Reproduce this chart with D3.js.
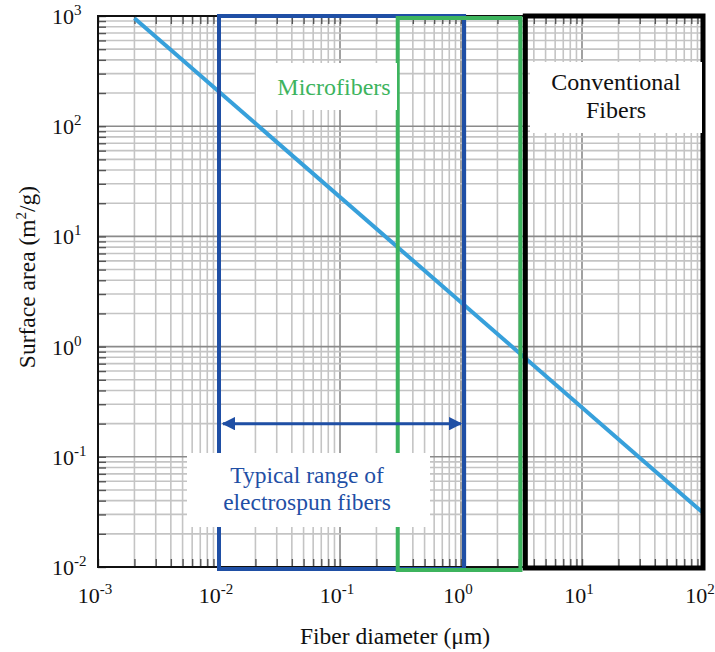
<!DOCTYPE html>
<html>
<head>
<meta charset="utf-8">
<script src="https://cdn.jsdelivr.net/npm/d3@7"></script>
<style>
  body { margin: 0; background: #fff; }
  svg text { font-family: "Liberation Serif", "DejaVu Serif", serif; }
</style>
</head>
<body>
<svg id="chart" width="715" height="652"></svg>
<script>
// data
var diameters = [0.002, 100];          // fiber diameter, um
var surfaceArea = [955, 0.031];        // m2/g

var xDecades = [-3, -2, -1, 0, 1, 2];
var yDecades = [-2, -1, 0, 1, 2, 3];

// ranges drawn as boxes
var rangeNames = ["Typical range of electrospun fibers", "Microfibers", "Conventional Fibers"];
var rangeStart = [0.01, 0.3, 3.4];
var rangeEnd = [1.06, 3.1, 100];
var rangeColors = ["#1f4fa5", "#3db45e", "#000000"];
var arrowLevel = 0.2;

var margin = {top: 16, right: 12, bottom: 85, left: 98};
var W = 715, H = 652;
var w = W - margin.left - margin.right;
var h = H - margin.top - margin.bottom;

var svg = d3.select('#chart');
var g = svg.append('g').attr('transform', 'translate(' + margin.left + ',' + margin.top + ')');

var x = d3.scaleLog().domain([1e-3, 1e2]).range([0, w]);
var y = d3.scaleLog().domain([1e-2, 1e3]).range([h, 0]);

function isDecade(v) {
    var l = Math.log10(v);
    return Math.abs(l - Math.round(l)) < 1e-6;
}

// grid
var xt = x.ticks();
var yt = y.ticks();

g.selectAll('.vgrid').data(xt).enter().append('line')
    .attr('x1', function (d) { return x(d); })
    .attr('x2', function (d) { return x(d); })
    .attr('y1', 0).attr('y2', h)
    .attr('stroke', function (d) { return isDecade(d) ? '#8a8a8a' : '#c4c4c4'; })
    .attr('stroke-width', 1.6);

g.selectAll('.hgrid').data(yt).enter().append('line')
    .attr('y1', function (d) { return y(d); })
    .attr('y2', function (d) { return y(d); })
    .attr('x1', 0).attr('x2', w)
    .attr('stroke', function (d) { return isDecade(d) ? '#8a8a8a' : '#c4c4c4'; })
    .attr('stroke-width', 1.6);

// small inward ticks
function tickStyle(a) {
    a.select('.domain').remove();
    a.selectAll('line').attr('stroke', '#555').attr('stroke-width', 1.4);
}
g.append('g').attr('transform', 'translate(0,' + h + ')')
    .call(d3.axisBottom(x).tickSize(-8).tickFormat(''))
    .call(tickStyle);
g.append('g')
    .call(d3.axisTop(x).tickSize(-8).tickFormat(''))
    .call(tickStyle);
g.append('g')
    .call(d3.axisLeft(y).tickSize(-8).tickFormat(''))
    .call(tickStyle);

// frame
g.append('rect')
    .attr('x', 0).attr('y', 0).attr('width', w).attr('height', h)
    .attr('fill', 'none').attr('stroke', '#111').attr('stroke-width', 2);

// white label backgrounds
var labelBoxes = [
    {x0: 187, y0: 453, x1: 430, y1: 527},
    {x0: 256, y0: 63, x1: 397, y1: 110},
    {x0: 530, y0: 62, x1: 702, y1: 133}
];
svg.selectAll('.lbox').data(labelBoxes).enter().append('rect')
    .attr('x', function (d) { return d.x0; })
    .attr('y', function (d) { return d.y0; })
    .attr('width', function (d) { return d.x1 - d.x0; })
    .attr('height', function (d) { return d.y1 - d.y0; })
    .attr('fill', '#fff');

// data line
var pts = diameters.map(function (d, i) { return [d, surfaceArea[i]]; });
g.append('path')
    .datum(pts)
    .attr('d', d3.line().x(function (d) { return x(d[0]); }).y(function (d) { return y(d[1]); }))
    .attr('fill', 'none')
    .attr('stroke', '#37a0db')
    .attr('stroke-width', 4);

// range boxes
var boxW = [4, 4, 5];
var boxTop = [0, 2, 0];
var boxBot = [h + 2, h + 3, h + 1];
[0, 1, 2].forEach(function (i) {
    g.append('rect')
        .attr('x', x(rangeStart[i]))
        .attr('y', boxTop[i])
        .attr('width', x(rangeEnd[i]) - x(rangeStart[i]))
        .attr('height', boxBot[i] - boxTop[i])
        .attr('fill', 'none')
        .attr('stroke', rangeColors[i])
        .attr('stroke-width', boxW[i]);
});
// blue right edge shows inside the green box
g.append('line')
    .attr('x1', x(rangeEnd[0])).attr('x2', x(rangeEnd[0]))
    .attr('y1', 4).attr('y2', h)
    .attr('stroke', rangeColors[0]).attr('stroke-width', 4);

// double arrow
var defs = svg.append('defs');
defs.append('marker').attr('id', 'ah')
    .attr('viewBox', '0 0 10 10').attr('refX', 9).attr('refY', 5)
    .attr('markerWidth', 4.5).attr('markerHeight', 4.5).attr('orient', 'auto-start-reverse')
    .append('path').attr('d', 'M0,0 L10,5 L0,10 Z').attr('fill', rangeColors[0]);
g.append('line')
    .attr('x1', x(rangeStart[0]) + 4).attr('x2', x(rangeEnd[0]) - 3)
    .attr('y1', y(arrowLevel)).attr('y2', y(arrowLevel))
    .attr('stroke', rangeColors[0]).attr('stroke-width', 3)
    .attr('marker-start', 'url(#ah)').attr('marker-end', 'url(#ah)');

// annotation texts
svg.append('text').attr('x', 334).attr('y', 95).attr('text-anchor', 'middle')
    .attr('font-size', 24).attr('fill', rangeColors[1]).text(rangeNames[1]);
var conv = svg.append('text').attr('text-anchor', 'middle').attr('font-size', 24).attr('fill', '#111');
conv.append('tspan').attr('x', 616).attr('y', 90).text('Conventional');
conv.append('tspan').attr('x', 616).attr('y', 118).text('Fibers');
var typ = svg.append('text').attr('text-anchor', 'middle').attr('font-size', 23.5).attr('fill', rangeColors[0]);
typ.append('tspan').attr('x', 307).attr('y', 483).text('Typical range of');
typ.append('tspan').attr('x', 307).attr('y', 510).text('electrospun fibers');

// tick labels
function powLabel(sel, e) {
    sel.append('tspan').text('10');
    sel.append('tspan').attr('dy', -9).attr('font-size', 15).text(String(e));
}
xDecades.forEach(function (e) {
    var t = svg.append('text')
        .attr('x', margin.left + x(Math.pow(10, e)) - 3)
        .attr('y', 603)
        .attr('text-anchor', 'middle')
        .attr('font-size', 22).attr('fill', '#111');
    powLabel(t, e);
});
yDecades.forEach(function (e) {
    var t = svg.append('text')
        .attr('x', 52)
        .attr('y', margin.top + y(Math.pow(10, e)) + 8)
        .attr('font-size', 22).attr('fill', '#111');
    powLabel(t, e);
});

// axis titles
svg.append('text')
    .attr('x', 395).attr('y', 644)
    .attr('text-anchor', 'middle').attr('font-size', 23.5).attr('fill', '#111')
    .text('Fiber diameter (\u03bcm)');
var yt2 = svg.append('text')
    .attr('transform', 'translate(35,277) rotate(-90)')
    .attr('text-anchor', 'middle').attr('font-size', 23.5).attr('fill', '#111');
yt2.append('tspan').text('Surface area (m');
yt2.append('tspan').attr('dy', -9).attr('font-size', 15).text('2');
yt2.append('tspan').attr('dy', 9).text('/g)');
</script>
</body>
</html>
